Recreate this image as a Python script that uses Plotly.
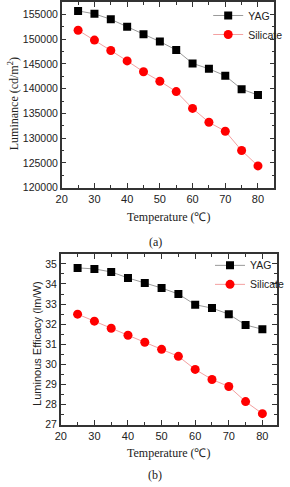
import plotly.graph_objects as go

temps = [25, 30, 35, 40, 45, 50, 55, 60, 65, 70, 75, 80]
lum_yag = [155700, 155100, 154000, 152500, 151000, 149500, 147800, 145100, 144000, 142600, 139900, 138700]
lum_sil = [151800, 149800, 147700, 145600, 143400, 141500, 139400, 136000, 133200, 131400, 127500, 124400]
eff_yag = [34.8, 34.75, 34.6, 34.3, 34.05, 33.8, 33.5, 32.97, 32.8, 32.5, 31.96, 31.75]
eff_sil = [32.5, 32.15, 31.8, 31.45, 31.1, 30.75, 30.4, 29.75, 29.25, 28.9, 28.15, 27.55]

W, H = 290, 487
def px(x): return x / W
def py(y): return 1 - y / H

SANS = "Liberation Sans, Arial, sans-serif"
SERIF = "Liberation Serif, Times New Roman, serif"
AX = "#333333"

fig = go.Figure()

def add_pair(xa, ya, yv, sv, legend):
    fig.add_trace(go.Scatter(x=temps, y=yv, name="YAG", mode="lines+markers",
                             xaxis=xa, yaxis=ya, legend=legend,
                             line=dict(color="#9a9a9a", width=1),
                             marker=dict(symbol="square", size=8, color="black")))
    fig.add_trace(go.Scatter(x=temps, y=sv, name="Silicate", mode="lines+markers",
                             xaxis=xa, yaxis=ya, legend=legend,
                             line=dict(color="#f4a0a0", width=1),
                             marker=dict(symbol="circle", size=9, color="#ff0000")))

add_pair("x", "y", lum_yag, lum_sil, "legend")
add_pair("x2", "y2", eff_yag, eff_sil, "legend2")

common_x = dict(showline=True, linecolor=AX, linewidth=1.5, mirror="ticks",
                ticks="inside", ticklen=5, tickwidth=1.2, tickcolor=AX,
                dtick=10, tick0=20, showgrid=False, zeroline=False,
                tickfont=dict(family=SANS, size=11, color="#222"),
                minor=dict(ticks="inside", ticklen=3, tickwidth=1, tickcolor=AX, dtick=5))
common_y = dict(showline=True, linecolor=AX, linewidth=1.5, mirror="ticks",
                ticks="inside", ticklen=5, tickwidth=1.2, tickcolor=AX,
                showgrid=False, zeroline=False, tickformat="d",
                tickfont=dict(family=SANS, size=10.5, color="#222"))

legfont = dict(family=SANS, size=10.5, color="#222")
fig.update_layout(
    width=W, height=H, margin=dict(l=0, r=0, t=0, b=0),
    paper_bgcolor="white", plot_bgcolor="white", showlegend=True,
    xaxis=dict(domain=[px(59), px(284)], range=[20, 85], anchor="y", **common_x),
    yaxis=dict(domain=[py(190), py(2)], range=[120000, 157500], anchor="x",
               dtick=5000, tick0=120000,
               minor=dict(ticks="inside", ticklen=3, tickwidth=1, tickcolor=AX, dtick=2500),
               **common_y),
    xaxis2=dict(domain=[px(58), px(287)], range=[20, 84.4], anchor="y2", **common_x),
    yaxis2=dict(domain=[py(430), py(257)], range=[27, 35.5], anchor="x2",
                dtick=1, tick0=27,
                minor=dict(ticks="inside", ticklen=3, tickwidth=1, tickcolor=AX, dtick=0.5),
                **common_y),
    legend=dict(x=px(214), y=py(1), xanchor="left", yanchor="top",
                bgcolor="rgba(0,0,0,0)", font=legfont,
                tracegroupgap=0, itemwidth=30),
    legend2=dict(x=px(216), y=py(254), xanchor="left", yanchor="top",
                 bgcolor="rgba(0,0,0,0)", font=legfont,
                 tracegroupgap=0, itemwidth=30),
)

ann = [
    dict(text="Luminance (cd/m<sup>2</sup>)", x=px(8), y=py(105), textangle=-90,
         font=dict(family=SERIF, size=12, color="#222")),
    dict(text="Temperature (\u2103)", x=px(172), y=py(220),
         font=dict(family=SERIF, size=12, color="#222")),
    dict(text="(a)", x=px(158), y=py(245), font=dict(family=SERIF, size=12, color="#222")),
    dict(text="Luminous Efficacy (lm/W)", x=px(32), y=py(348), textangle=-90,
         font=dict(family=SANS, size=11, color="#222")),
    dict(text="Temperature (\u2103)", x=px(172), y=py(459),
         font=dict(family=SERIF, size=12, color="#222")),
    dict(text="(b)", x=px(158), y=py(481), font=dict(family=SERIF, size=12, color="#222")),
]
for a in ann:
    fig.add_annotation(xref="paper", yref="paper", showarrow=False,
                       xanchor="center", yanchor="middle", **a)

fig.write_html("out.html")
